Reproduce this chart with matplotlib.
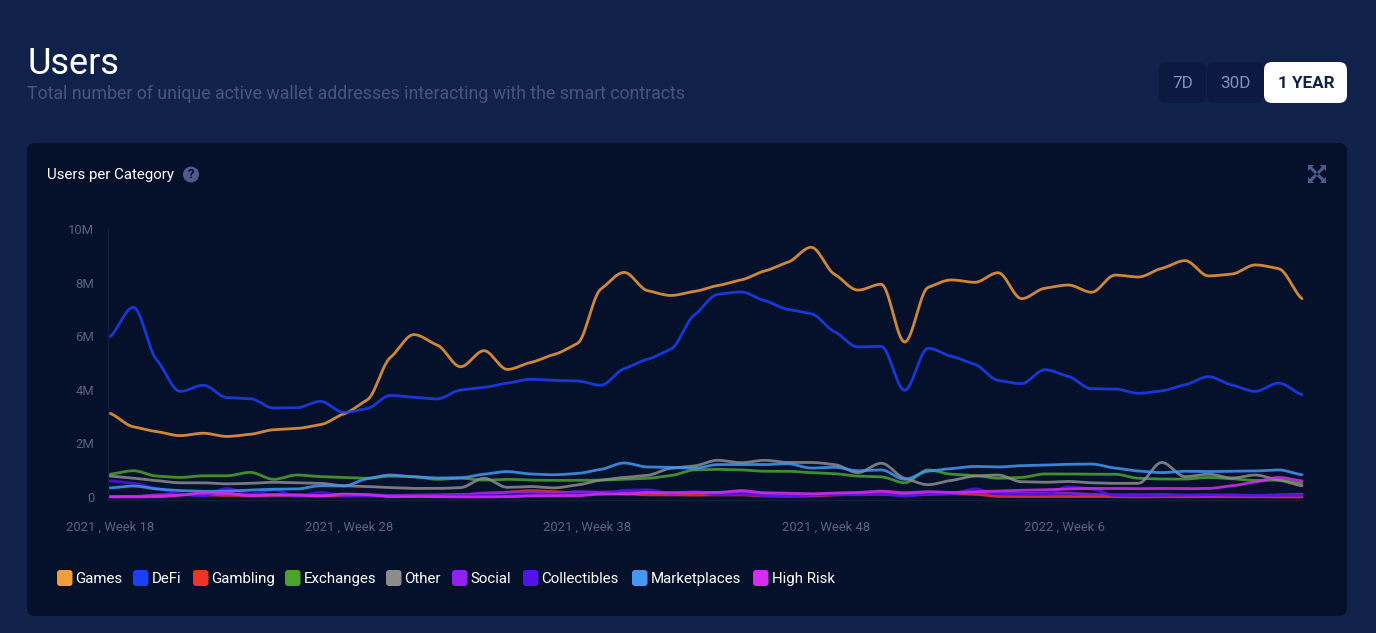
import numpy as np
import matplotlib
matplotlib.use("Agg")
import matplotlib.pyplot as plt
from matplotlib.patches import FancyBboxPatch, Circle, Polygon

plt.rcParams['font.family'] = ['Roboto', 'DejaVu Sans']

# weekly values, in millions
games = [3.12, 2.62, 2.44, 2.29, 2.38, 2.26, 2.34, 2.51, 2.56, 2.70, 3.10, 3.62, 5.21, 6.06, 5.67, 4.86, 5.46, 4.76,
         5.02, 5.32, 5.73, 7.76, 8.38, 7.70, 7.52, 7.67, 7.89, 8.10, 8.43, 8.76, 9.32, 8.31, 7.72, 7.94, 5.78, 7.82,
         8.10, 8.01, 8.37, 7.40, 7.79, 7.91, 7.64, 8.28, 8.21, 8.53, 8.82, 8.25, 8.32, 8.66, 8.52, 7.40]
defi = [5.98, 7.08, 5.11, 3.94, 4.17, 3.71, 3.67, 3.32, 3.33, 3.57, 3.16, 3.30, 3.79, 3.72, 3.66, 3.99, 4.09, 4.25,
        4.39, 4.35, 4.33, 4.17, 4.79, 5.14, 5.52, 6.79, 7.56, 7.65, 7.33, 7.00, 6.84, 6.17, 5.60, 5.62, 3.98, 5.55,
        5.25, 4.95, 4.35, 4.23, 4.75, 4.50, 4.04, 4.03, 3.87, 3.96, 4.19, 4.49, 4.18, 3.94, 4.25, 3.82]
gambling = [.02, .01, .06, .09, .08, .06, .06, .07, .07, .04, .04, .05, .06, .07, .08, .09, .12, .18,
            .24, .20, .15, .14, .12, .08, .08, .07, .08, .08, .04, .03, .04, .08, .10, .10, .08, .10,
            .12, .10, .02, .02, .02, .02, .02, .01, .00, .01, .01, .01, .01, .01, .00, .00]
exchanges = [.85, .98, .78, .73, .79, .79, .92, .66, .82, .76, .73, .70, .78, .76, .66, .70, .63, .66,
             .63, .62, .62, .63, .66, .70, .80, 1.01, 1.03, 1.01, .96, .96, .91, .87, .78, .75, .53, 1.01,
             .85, .80, .70, .73, .86, .86, .85, .85, .70, .67, .67, .73, .68, .62, .63, .51]
other = [.78, .70, .61, .53, .53, .49, .51, .55, .53, .51, .42, .39, .35, .32, .32, .35, .70, .36,
         .39, .34, .45, .63, .73, .81, 1.07, 1.16, 1.37, 1.28, 1.37, 1.29, 1.29, 1.21, .91, 1.26, .70, .46,
         .62, .78, .82, .57, .55, .58, .53, .51, .51, 1.29, .76, .85, .71, .82, .63, .42]
social = [.02, .02, .08, .10, .10, .10, .10, .10, .08, .05, .10, .08, .06, .04, .05, .08, .15, .18,
          .18, .12, .20, .18, .20, .20, .14, .18, .16, .20, .10, .05, .06, .10, .12, .16, .10, .12,
          .14, .16, .15, .14, .14, .14, .10, .08, .08, .09, .06, .05, .07, .06, .08, .10]
collectibles = [.60, .51, .32, .11, .04, .32, .11, .26, .04, .17, .05, .04, .04, .04, .04, .04, .06, .05,
                .07, .10, .12, .10, .25, .27, .15, .20, .08, .10, .05, .04, .08, .08, .08, .10, .03, .10,
                .12, .30, .12, .10, .10, .38, .30, .06, .05, .06, .07, .09, .07, .06, .06, .06]
marketplaces = [.34, .41, .30, .24, .21, .22, .26, .29, .30, .42, .41, .68, .82, .75, .71, .72, .85, .95,
                .86, .83, .88, 1.03, 1.27, 1.12, 1.11, 1.07, 1.21, 1.21, 1.21, 1.24, 1.08, 1.11, .98, 1.01, .66, .96,
                1.06, 1.14, 1.12, 1.17, 1.19, 1.22, 1.23, 1.08, .97, .91, .96, .95, .96, .97, 1.01, .83]
high_risk = [.00, .00, .01, .06, .16, .14, .05, .07, .07, .04, .11, .09, .01, .02, .01, .00, .00, .01,
             .04, .05, .05, .11, .11, .16, .16, .16, .17, .24, .16, .14, .12, .15, .17, .22, .16, .20,
             .17, .20, .22, .25, .27, .30, .32, .32, .31, .32, .31, .32, .42, .56, .73, .60]

names = ['Games', 'DeFi', 'Gambling', 'Exchanges', 'Other', 'Social', 'Collectibles', 'Marketplaces', 'High Risk']
series = [games, defi, gambling, exchanges, other, social, collectibles, marketplaces, high_risk]
colors = ['#F59C3A', '#1C3EF5', '#EE3424', '#4BA32F', '#8C8C8C', '#9420F0', '#5212E8', '#4597F2', '#D82CF0']

x_labels = ['2021 , Week 18', '2021 , Week 28', '2021 , Week 38', '2021 , Week 48', '2022 , Week 6']
y_ticks = [0, 2, 4, 6, 8, 10]
y_labels = ['0', '2M', '4M', '6M', '8M', '10M']


def monotone(y, per=12, tension=0.6):
    # monotone cubic through the weekly values, damped so each week shows a small step
    y = np.asarray(y, float)
    d = np.diff(y)
    m = np.zeros(len(y))
    for i in range(1, len(y) - 1):
        if d[i - 1] * d[i] > 0:
            m[i] = tension * 2 * d[i - 1] * d[i] / (d[i - 1] + d[i])
    m[0], m[-1] = tension * d[0], tension * d[-1]
    xs, ys = [], []
    t = np.linspace(0, 1, per, endpoint=False)
    for i in range(len(y) - 1):
        h00 = 2 * t**3 - 3 * t**2 + 1
        h10 = t**3 - 2 * t**2 + t
        h01 = -2 * t**3 + 3 * t**2
        h11 = t**3 - t**2
        xs.append(i + t)
        ys.append(h00 * y[i] + h10 * m[i] + h01 * y[i + 1] + h11 * m[i + 1])
    xs.append([len(y) - 1])
    ys.append([y[-1]])
    return np.concatenate(xs), np.concatenate(ys)


W, H = 1376, 633
fig = plt.figure(figsize=(W / 100, H / 100), dpi=100, facecolor='#11224A')

# page furniture in pixel coordinates
ui = fig.add_axes([0, 0, 1, 1])
ui.set_xlim(0, W)
ui.set_ylim(H, 0)
ui.axis('off')


def box(x0, y0, x1, y1, color, r=8):
    ui.add_patch(FancyBboxPatch((x0 + r, y0 + r), x1 - x0 - 2 * r, y1 - y0 - 2 * r,
                                boxstyle=f'round,pad={r},rounding_size={r}', fc=color, ec='none'))


ui.text(27, 64, 'Users', color='white', fontsize=26, va='center')
ui.text(27, 93.5, 'Total number of unique active wallet addresses interacting with the smart contracts',
        color='#46557F', fontsize=12.8, va='center')

box(1159, 62, 1206, 103, '#0C1A42')
box(1207, 62, 1264, 103, '#0C1A42')
box(1264, 62, 1347, 103, 'white')
ui.text(1183, 83, '7D', color='#8391B8', fontsize=12.3, ha='center', va='center')
ui.text(1235, 83, '30D', color='#8391B8', fontsize=12.3, ha='center', va='center')
ui.text(1306, 83, '1 YEAR', color='#11224A', fontsize=12.3, fontweight='bold', ha='center', va='center')

box(27, 143, 1347, 616, '#05112B')
ui.text(47, 175, 'Users per Category', color='white', fontsize=10.8, va='center')
ui.add_patch(Circle((191, 174.5), 8, fc='#4C5B8C', ec='none'))
ui.text(191, 175, '?', color='#05112B', fontsize=9.5, fontweight='bold', ha='center', va='center')

# expand icon
cx, cy = 1317, 174
for sx, sy in [(-1, -1), (1, -1), (-1, 1), (1, 1)]:
    ui.plot([cx + sx * 2, cx + sx * 7], [cy + sy * 2, cy + sy * 7], color='#4C5B8C', lw=2.2)
    ui.add_patch(Polygon([(cx + sx * 9, cy + sy * 9), (cx + sx * 3, cy + sy * 9), (cx + sx * 9, cy + sy * 3)],
                         fc='#4C5B8C', ec='none'))

# legend
swatch_x = [57, 133, 193, 285, 386, 452, 523, 632, 753]
for name, color, sx in zip(names, colors, swatch_x):
    box(sx, 570, sx + 15.5, 586, color, r=3)
    ui.text(sx + 18.5, 579, name, color='white', fontsize=10.8, va='center')

# chart, 0 at y=497 and 10M at y=229, first week at x=110, last at x=1302
ax = fig.add_axes([108 / W, 1 - 500 / H, (1302 - 108) / W, (500 - 229) / H])
ax.patch.set_alpha(0)
ax.set_xlim(-2 / 23.37, 51)
ax.set_ylim(-3 / 26.8, 10)

for vals, color in zip(series, colors):
    xs, ys = monotone(vals)
    ax.plot(xs, ys, color=color, lw=2.0, alpha=0.85, solid_capstyle='round', clip_on=False)

ax.set_xticks(np.arange(5) * 10.21)
ax.set_xticklabels(x_labels)
ax.set_yticks(y_ticks)
ax.set_yticklabels(y_labels)
ax.tick_params(axis='x', length=0, pad=15, labelsize=9.4, labelcolor='#5B6478')
ax.tick_params(axis='y', length=0, pad=10, labelsize=9.4, labelcolor='#5B6478')
for side in ['top', 'right']:
    ax.spines[side].set_visible(False)
for side in ['left', 'bottom']:
    ax.spines[side].set_color('#121E3A')
    ax.spines[side].set_linewidth(1)

fig.savefig('out.png', dpi=100, facecolor=fig.get_facecolor())
